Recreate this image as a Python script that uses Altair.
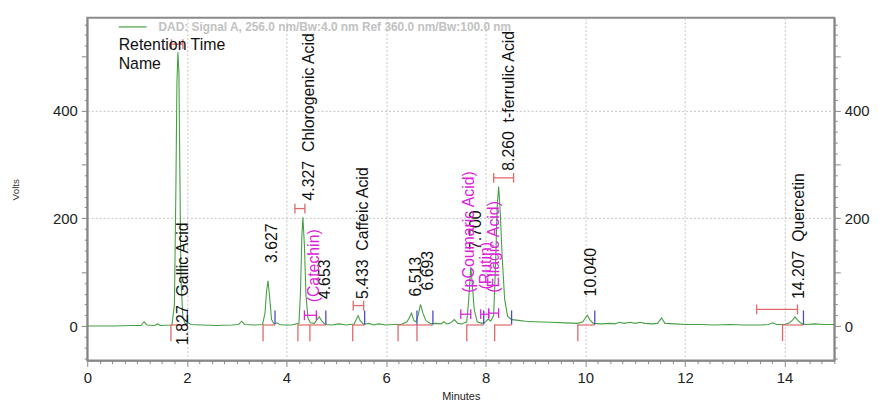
import altair as alt
import pandas as pd

# ---- chromatogram trace (minutes, signal) ----
trace = [
    (0.0, 0), (0.5, 0), (0.9, 1), (1.08, 1), (1.14, 8), (1.20, 2), (1.35, 1), (1.41, 4),
    (1.47, 1), (1.70, 2), (1.75, 40), (1.78, 260), (1.80, 450), (1.82, 508), (1.84, 470),
    (1.86, 280), (1.88, 90), (1.92, 15), (1.97, 4), (2.03, 6), (2.08, 3), (2.3, 2), (2.6, 1),
    (2.9, 2), (3.04, 3), (3.10, 9), (3.16, 3), (3.35, 2), (3.52, 3), (3.57, 25), (3.60, 65),
    (3.63, 84), (3.66, 55), (3.70, 12), (3.75, 4), (3.81, 6), (3.86, 3), (3.95, 2), (4.1, 2),
    (4.25, 5), (4.28, 60), (4.31, 170), (4.33, 202), (4.36, 150), (4.39, 60), (4.43, 15),
    (4.48, 6), (4.56, 5), (4.62, 13), (4.66, 17), (4.71, 9), (4.78, 3), (4.9, 2), (5.05, 4),
    (5.2, 2), (5.36, 4), (5.40, 12), (5.44, 19), (5.48, 10), (5.55, 3), (5.65, 5), (5.75, 2),
    (5.85, 4), (6.0, 2), (6.15, 3), (6.3, 3), (6.42, 8), (6.47, 16), (6.51, 24), (6.56, 10),
    (6.60, 8), (6.65, 22), (6.69, 40), (6.74, 24), (6.80, 10), (6.90, 4), (7.0, 5), (7.1, 4),
    (7.16, 8), (7.22, 4), (7.30, 6), (7.37, 12), (7.44, 5), (7.52, 4), (7.62, 8), (7.66, 50),
    (7.70, 109), (7.73, 80), (7.77, 30), (7.83, 8), (7.92, 5), (7.99, 7), (8.05, 13), (8.10, 9),
    (8.16, 20), (8.20, 120), (8.23, 220), (8.26, 259), (8.29, 215), (8.33, 130), (8.38, 50),
    (8.44, 18), (8.52, 12), (8.62, 11), (8.8, 9), (9.0, 8), (9.3, 7), (9.6, 6), (9.85, 5),
    (9.95, 8), (10.0, 15), (10.04, 20), (10.09, 12), (10.16, 5), (10.3, 4), (10.5, 5), (10.6, 4),
    (10.68, 7), (10.78, 5), (10.9, 7), (11.0, 5), (11.1, 7), (11.2, 5), (11.35, 4), (11.45, 5),
    (11.53, 15), (11.6, 5), (11.8, 4), (12.0, 3), (12.3, 3), (12.6, 2), (12.9, 3), (13.2, 2),
    (13.5, 2), (13.68, 3), (13.76, 6), (13.84, 3), (14.0, 3), (14.1, 6), (14.16, 11),
    (14.21, 17), (14.27, 10), (14.35, 4), (14.45, 3), (14.6, 4), (14.8, 3), (15.0, 3),
]
time_min = [p[0] for p in trace]
signal = [p[1] for p in trace]

# ---- integration markers ----
peak_start = [1.68, 3.53, 4.23, 4.47, 5.33, 6.24, 6.62, 7.62, 8.18, 9.85, 13.96]
peak_end = [2.01, 3.77, 4.47, 4.79, 5.57, 6.62, 6.94, 7.96, 8.52, 10.19, 14.38]
end_tick = [2.01, 3.77, 4.79, 5.57, 6.62, 6.94, 7.96, 8.52, 10.19, 14.38]

# ---- retention windows (I-beams) ----
win_t1 = [1.69, 4.17, 5.34, 8.16, 13.44, 4.36, 7.50, 7.90, 8.06]
win_t2 = [1.92, 4.37, 5.55, 8.56, 14.26, 4.60, 7.70, 8.06, 8.26]
win_v = [523, 218, 38, 275, 31, 20, 22, 22, 24]
win_kind = ["found", "found", "found", "found", "found",
            "expected", "expected", "expected", "expected"]

# ---- peak labels ----
NB = "\u00a0\u00a0"
peak_labels = ["1.827" + NB + "Gallic Acid", "3.627", "4.327" + NB + "Chlorogenic Acid", "4.653",
               "5.433" + NB + "Caffeic Acid", "6.513", "6.693", "7.700",
               "8.260" + NB + "t-ferrulic Acid", "10.040", "14.207" + NB + "Quercetin"]
peak_label_t = [1.93, 3.72, 4.45, 4.77, 5.54, 6.60, 6.84, 7.81, 8.47, 10.12, 14.29]
peak_label_v = [-35, 117, 233, 50, 50, 55, 66, 141, 288, 55, 50]

exp_labels = ["(Catechin)", "(pCoumaric Acid)", "(Rutin)", "(Ellagic Acid)"]
exp_label_t = [4.55, 7.67, 8.01, 8.17]
exp_label_v = [44, 62, 68, 62]

legend_title = "DAD: Signal A, 256.0 nm/Bw:4.0 nm Ref 360.0 nm/Bw:100.0 nm"
header_lines = ["Retention Time", "Name"]

FONT = "Liberation Sans"
GREEN = "#45a045"
RED = "#e06868"
BLUE = "#4a4ac8"
MAGENTA = "#dd22dd"

X_DOM = [0, 15]
Y_DOM = [-64, 572]

x_ticks = [i * 0.25 for i in range(61)]
y_ticks = list(range(-60, 561, 20))

x_axis = alt.Axis(
    values=x_ticks,
    labelExpr="datum.value % 2 === 0 ? format(datum.value, 'd') : ''",
    title="Minutes", titleFont=FONT, titleFontSize=11,
    titleFontWeight="normal", titleColor="#222", titlePadding=5,
    labelFont=FONT, labelFontSize=15, labelColor="#222", labelFlush=False,
    labelOverlap=False, labelPadding=4,
    grid=True, gridColor="#c4c4c4", gridDash=[2, 2],
    gridOpacity={"condition": {"test": "datum.value % 2 === 0 && datum.value > 0 && datum.value < 15",
                               "value": 1}, "value": 0},
    tickSize={"condition": {"test": "datum.value % 2 === 0", "value": 6}, "value": 3},
    tickColor="#888", domainColor="#888", domainWidth=1.5,
)


def y_axis(orient):
    return alt.Axis(
        orient=orient, values=y_ticks,
        labelExpr="datum.value % 200 === 0 ? format(datum.value, 'd') : ''",
        title="Volts" if orient == "left" else None,
        titleFont=FONT, titleFontSize=10, titleFontWeight="normal", titleColor="#333",
        titlePadding=32,
        labelFont=FONT, labelFontSize=15, labelColor="#222", labelOverlap=False,
        labelPadding=4,
        grid=(orient == "left"), gridColor="#c4c4c4", gridDash=[2, 2],
        gridOpacity={"condition": {"test": "datum.value % 200 === 0 && datum.value > 0", "value": 1},
                     "value": 0},
        tickSize={"condition": {"test": "datum.value % 100 === 0", "value": 6}, "value": 3},
        tickColor="#888", domainColor="#888", domainWidth=1.5,
    )


def X(field):
    return alt.X(field, type="quantitative", scale=alt.Scale(domain=X_DOM, nice=False, zero=False),
                 axis=x_axis)


def Y(field, axis=None):
    return alt.Y(field, type="quantitative", scale=alt.Scale(domain=Y_DOM, nice=False, zero=False),
                 axis=axis)


sig_df = pd.DataFrame({"t": time_min, "v": signal})

line = alt.Chart(sig_df).mark_line(color=GREEN, strokeWidth=1.1).encode(
    x=X("t"), y=Y("v", y_axis("left")))
line_right = alt.Chart(sig_df).mark_line(opacity=0).encode(
    x=X("t"), y=Y("v", y_axis("right")))

start_df = pd.DataFrame({"t": peak_start, "t2": peak_end})
start_ticks = alt.Chart(start_df).mark_rule(color=RED, strokeWidth=1.3).transform_calculate(
    lo="-28", hi="3").encode(x=X("t"), y=Y("hi:Q"), y2="lo:Q")
base_seg = alt.Chart(start_df).mark_rule(color=RED, strokeWidth=1.2).transform_calculate(
    b="2").encode(x=X("t"), x2="t2:Q", y=Y("b:Q"))

end_df = pd.DataFrame({"t": end_tick})
end_ticks = alt.Chart(end_df).mark_rule(color=BLUE, strokeWidth=1.3).transform_calculate(
    lo="3", hi="29").encode(x=X("t"), y=Y("hi:Q"), y2="lo:Q")

win_df = pd.DataFrame({"t1": win_t1, "t2": win_t2, "v": win_v, "kind": win_kind})
kind_color = alt.Color("kind:N", scale=alt.Scale(domain=["found", "expected"], range=[RED, MAGENTA]),
                       legend=None)
win_bar = alt.Chart(win_df).mark_rule(strokeWidth=1.3).encode(
    x=X("t1"), x2="t2:Q", y=Y("v"), color=kind_color)
cap_df = pd.concat([
    win_df[["t1", "v", "kind"]].rename(columns={"t1": "t"}),
    win_df[["t2", "v", "kind"]].rename(columns={"t2": "t"}),
])
win_caps = alt.Chart(cap_df).mark_rule(strokeWidth=1.3).transform_calculate(
    lo="datum.v - 9", hi="datum.v + 9").encode(x=X("t"), y=Y("hi:Q"), y2="lo:Q", color=kind_color)

peak_df = pd.DataFrame({"t": peak_label_t, "v": peak_label_v, "label": peak_labels})
peak_text = alt.Chart(peak_df).mark_text(
    angle=270, align="left", baseline="middle", font=FONT, fontSize=16, color="#111").encode(
    x=X("t"), y=Y("v"), text="label:N")

exp_df = pd.DataFrame({"t": exp_label_t, "v": exp_label_v, "label": exp_labels})
exp_text = alt.Chart(exp_df).mark_text(
    angle=270, align="left", baseline="middle", font=FONT, fontSize=16, color=MAGENTA).encode(
    x=X("t"), y=Y("v"), text="label:N")

leg_line = alt.Chart(pd.DataFrame({"t": [0.63], "t2": [1.19], "v": [555]})).mark_rule(
    color=GREEN, strokeWidth=1.2).encode(x=X("t"), x2="t2:Q", y=Y("v"))
leg_text = alt.Chart(pd.DataFrame({"t": [1.43], "v": [555], "label": [legend_title]})).mark_text(
    align="left", baseline="middle", font=FONT, fontSize=12, fontWeight="bold", color="#c2c2c2").encode(
    x=X("t"), y=Y("v"), text="label:N")
head_text = alt.Chart(pd.DataFrame({"t": [0.63, 0.63], "v": [521, 487], "label": header_lines})).mark_text(
    align="left", baseline="middle", font=FONT, fontSize=16, color="#111").encode(
    x=X("t"), y=Y("v"), text="label:N")

chart = alt.layer(
    line, line_right, base_seg, start_ticks, end_ticks, win_bar, win_caps,
    peak_text, exp_text, leg_line, leg_text, head_text,
).resolve_scale(y="independent").properties(
    width=754, height=346,
    autosize=alt.AutoSizeParams(type="none"),
    padding={"left": 80, "top": 8, "right": 36, "bottom": 43},
    background="white",
).configure_view(stroke="#8a8a8a", strokeWidth=2)

chart.save("out.html", embed_options={"renderer": "svg", "actions": False})
